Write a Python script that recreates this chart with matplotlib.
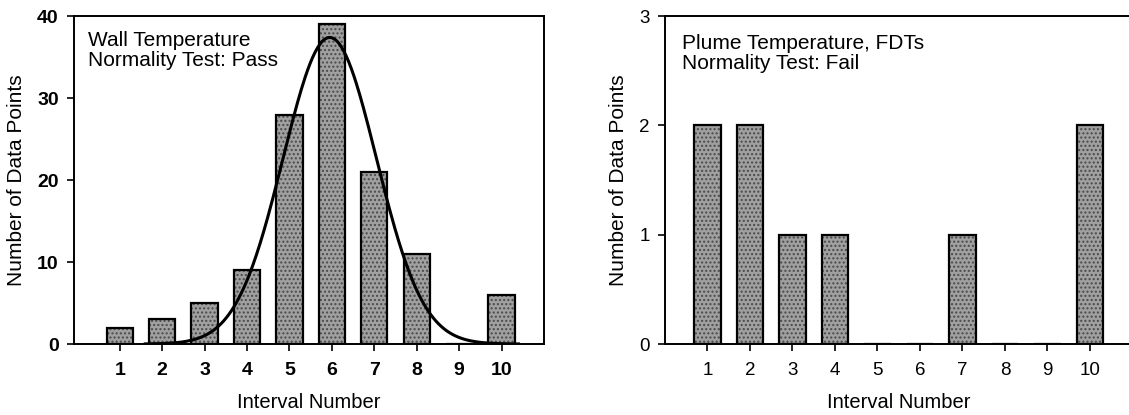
import numpy as np
import matplotlib
matplotlib.use("Agg")
import matplotlib.pyplot as plt

plt.rcParams["font.family"] = ["Liberation Sans", "DejaVu Sans"]

# ── DANE ─────────────────────────────────────────────────────────────────────
intervals = [1, 2, 3, 4, 5, 6, 7, 8, 9, 10]
wall_counts = [2, 3, 5, 9, 28, 39, 21, 11, 0, 6]
plume_counts = [2, 2, 1, 1, 0, 0, 1, 0, 0, 2]

# dopasowana krzywa normalna (odczyt z wykresu)
fit_mean = 5.95
fit_sd = 1.1
fit_peak = 37.4

wall_text = "Wall Temperature\nNormality Test: Pass"
plume_text = "Plume Temperature, FDTs\nNormality Test: Fail"

BAR_W = 0.62
FILL = "#a0a0a0"


def draw_bars(ax, counts):
    ax.bar(intervals, counts, width=BAR_W, color=FILL, edgecolor="#4a4a4a",
           hatch="....", linewidth=0, zorder=2)
    ax.bar(intervals, counts, width=BAR_W, facecolor="none",
           edgecolor="black", linewidth=1.6, zorder=3)


def style_axes(ax, bold, tsize):
    w = "bold" if bold else "normal"
    ax.set_xticks(intervals)
    ax.tick_params(axis="x", direction="out", length=5, width=1.2, pad=8,
                   labelsize=tsize)
    ax.tick_params(axis="y", direction="out", length=5, width=1.2, pad=6,
                   labelsize=tsize)
    for lab in ax.get_xticklabels() + ax.get_yticklabels():
        lab.set_fontweight(w)
    for s in ax.spines.values():
        s.set_linewidth(1.4)
    ax.set_xlabel("Interval Number", fontsize=14.5, labelpad=10)
    ax.set_ylabel("Number of Data Points", fontsize=15, labelpad=8)


fig = plt.figure(figsize=(11.29, 4.15), dpi=100)

# lewy panel
ax1 = fig.add_axes([0.0655, 0.171, 0.4163, 0.790])
draw_bars(ax1, wall_counts)
xs = np.linspace(1.6, 10.4, 300)
ax1.plot(xs, fit_peak * np.exp(-(xs - fit_mean) ** 2 / (2 * fit_sd ** 2)),
         color="black", linewidth=2.2, zorder=4)
ax1.set_xlim(-0.08, 11.0)
ax1.set_ylim(0, 40)
ax1.set_yticks([0, 10, 20, 30, 40])
style_axes(ax1, bold=True, tsize=14)
ax1.text(0.03, 0.955, wall_text, transform=ax1.transAxes, fontsize=15,
         va="top", ha="left", linespacing=1.05)

# prawy panel
ax2 = fig.add_axes([0.589, 0.171, 0.414, 0.790])
draw_bars(ax2, plume_counts)
ax2.set_xlim(0, 11.0)
ax2.set_ylim(0, 3)
ax2.set_yticks([0, 1, 2, 3])
style_axes(ax2, bold=False, tsize=13.5)
ax2.spines["right"].set_visible(False)
ax2.text(0.036, 0.945, plume_text, transform=ax2.transAxes, fontsize=15,
         va="top", ha="left", linespacing=1.05)

fig.savefig("out.png", dpi=100)
